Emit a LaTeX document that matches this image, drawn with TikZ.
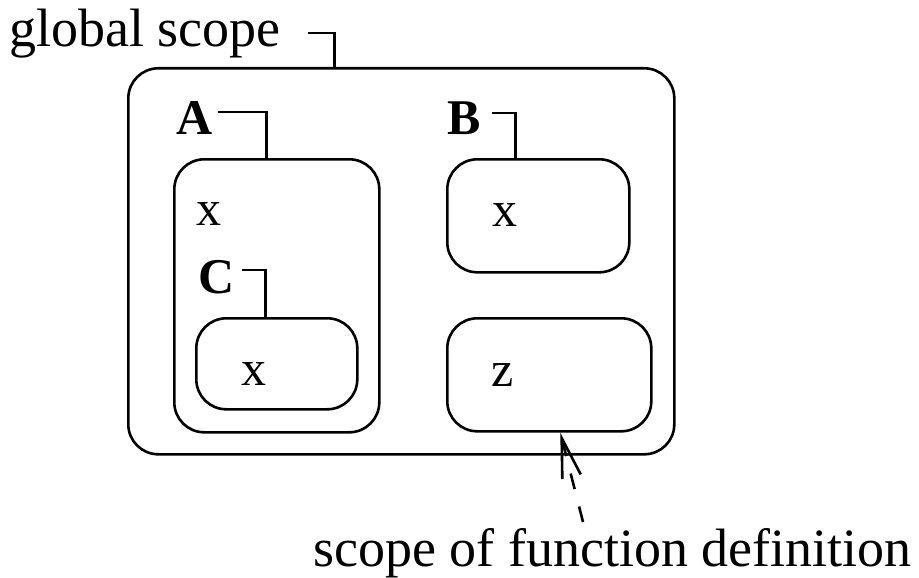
\documentclass[tikz,border=0pt]{standalone}
\usepackage{fontspec}
\setmainfont{Liberation Serif}
\usetikzlibrary{arrows.meta}

\begin{document}
\begin{tikzpicture}[x=1pt, y=-1pt, line width=2.6pt,
  scopebox/.style={draw, rounded corners=30pt, anchor=north west, inner sep=0pt},
  scopename/.style={font=\fontsize{50}{60}\selectfont\bfseries, inner sep=0pt, anchor=base west},
  varname/.style={font=\fontsize{50}{60}\selectfont, inner sep=0pt, anchor=base},
  note/.style={font=\fontsize{54}{64}\selectfont, inner sep=0pt, anchor=base west}]
  \useasboundingbox (0,0) rectangle (919,578);

  \node[scopebox, minimum width=546pt, minimum height=386pt] (global) at (127,67) {};
  \node[scopebox, minimum width=205pt, minimum height=273pt] (abox) at (173,158) {};
  \node[scopebox, minimum width=161pt, minimum height=91pt] (cbox) at (195,317) {};
  \node[scopebox, minimum width=182pt, minimum height=113pt] (bbox) at (446,158) {};
  \node[scopebox, minimum width=204pt, minimum height=113pt] (zbox) at (446,317) {};

  \node[note] (globalname) at (8,47) {global scope};
  \node[scopename] (aname) at (175,135) {A};
  \node[scopename] (bname) at (446,135) {B};
  \node[scopename] (cname) at (197,293) {C};
  \node[note] (fundef) at (312,566) {scope of function definition};

  \node[varname] (ax) at (209,225) {x};
  \node[varname] (cx) at (254,385) {x};
  \node[varname] (bx) at (505,226) {x};
  \node[varname] (bz) at (503,386) {z};

  \coordinate (globalhook) at (308,33);
  \coordinate (ahook) at (218,112);
  \coordinate (bhook) at (492,113);
  \coordinate (chook) at (242,270);
  \coordinate (fundeftail) at (583,522);

  \draw (globalhook) -| ([xshift=-67pt]global.north);
  \draw (ahook) -| ([xshift=-10.5pt]abox.north);
  \draw (bhook) -| ([xshift=-23pt]bbox.north);
  \draw (chook) -| ([xshift=-11.5pt]cbox.north);
  \draw[dash pattern=on 16pt off 18pt, -{Straight Barb[length=40pt,width=19pt]}]
    (fundeftail) -- ([xshift=11pt]zbox.south);
\end{tikzpicture}
\end{document}
